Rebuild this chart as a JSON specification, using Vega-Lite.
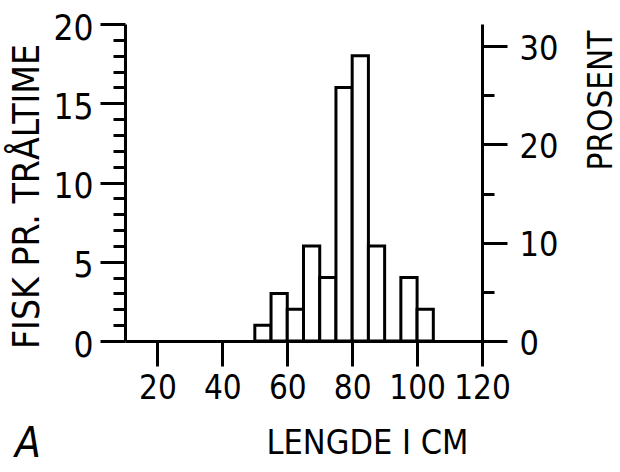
{
  "$schema": "https://vega.github.io/schema/vega-lite/v6.json",
  "width": 357,
  "height": 317,
  "autosize": "none",
  "padding": {"left": 125, "top": 24, "right": 138, "bottom": 131},
  "background": "white",
  "title": {"text": "A", "orient": "bottom", "anchor": "start", "frame": "group", "dx": -110, "dy": -36, "offset": 0, "fontSize": 42, "font": "DejaVu Sans Condensed, DejaVu Sans", "fontWeight": "normal", "fontStyle": "italic", "color": "black"},
  "config": {
    "view": {"stroke": null},
    "axis": {"domainColor": "black", "domainWidth": 3, "tickColor": "black", "tickWidth": 3, "labelColor": "black", "titleColor": "black", "labelFont": "DejaVu Sans Condensed, DejaVu Sans", "titleFont": "DejaVu Sans Condensed, DejaVu Sans", "grid": false, "titleFontWeight": "normal", "labelFlush": false, "labelOverlap": false}
  },
  "data": {"values": [
    {"fra": 50, "til": 55, "fisk": 1, "prosent": 1.613},
    {"fra": 55, "til": 60, "fisk": 3, "prosent": 4.839},
    {"fra": 60, "til": 65, "fisk": 2, "prosent": 3.226},
    {"fra": 65, "til": 70, "fisk": 6, "prosent": 9.677},
    {"fra": 70, "til": 75, "fisk": 4, "prosent": 6.452},
    {"fra": 75, "til": 80, "fisk": 16, "prosent": 25.806},
    {"fra": 80, "til": 85, "fisk": 18, "prosent": 29.032},
    {"fra": 85, "til": 90, "fisk": 6, "prosent": 9.677},
    {"fra": 90, "til": 95, "fisk": 0, "prosent": 0},
    {"fra": 95, "til": 100, "fisk": 4, "prosent": 6.452},
    {"fra": 100, "til": 105, "fisk": 2, "prosent": 3.226}
  ]},
  "layer": [
    {
      "mark": {"type": "bar", "fill": "white", "stroke": "black", "strokeWidth": 3},
      "encoding": {
        "x": {"field": "fra", "type": "quantitative", "scale": {"domain": [10, 120], "nice": false, "zero": false},
          "axis": {"values": [20, 30, 40, 50, 60, 70, 80, 90, 100, 110, 120],
            "tickSize": {"condition": {"test": "datum.value % 20 === 0", "value": 25}, "value": 14},
            "labelExpr": "datum.value % 20 === 0 ? datum.label : ''",
            "labelFontSize": 33, "labelPadding": 6,
            "title": "LENGDE I CM", "titleFontSize": 34, "titleX": 242, "titleY": 102, "titleAlign": "center", "titleBaseline": "middle"}},
        "x2": {"field": "til"},
        "y": {"field": "fisk", "type": "quantitative", "scale": {"domain": [0, 20], "nice": false},
          "axis": {"values": [0,1,2,3,4,5,6,7,8,9,10,11,12,13,14,15,16,17,18,19,20],
            "tickSize": {"condition": {"test": "datum.value % 5 === 0", "value": 25}, "value": 12},
            "labelExpr": "datum.value % 5 === 0 ? datum.label : ''",
            "labelFontSize": 35, "labelPadding": 7, "labelOffset": 4,
            "title": "FISK PR. TRÅLTIME", "titleFontSize": 37, "titleAngle": 270, "titleX": -98, "titleY": 172, "titleAlign": "center", "titleBaseline": "middle"}},
        "y2": {"datum": 0}
      }
    },
    {
      "mark": {"type": "bar", "opacity": 0},
      "encoding": {
        "x": {"field": "fra", "type": "quantitative"},
        "x2": {"field": "til"},
        "y": {"field": "prosent", "type": "quantitative", "scale": {"domain": [0, 32.258], "nice": false},
          "axis": {"orient": "right", "values": [0, 5, 10, 15, 20, 25, 30],
            "tickSize": {"condition": {"test": "datum.value % 10 === 0", "value": 25}, "value": 12},
            "labelExpr": "datum.value % 10 === 0 ? datum.label : ''",
            "labelFontSize": 34, "labelPadding": 12, "labelOffset": 3,
            "title": "PROSENT", "titleFontSize": 33, "titleAngle": 270, "titleX": 119, "titleY": 76, "titleAlign": "center", "titleBaseline": "middle"}},
        "y2": {"datum": 0}
      }
    }
  ],
  "resolve": {"scale": {"y": "independent"}}
}
